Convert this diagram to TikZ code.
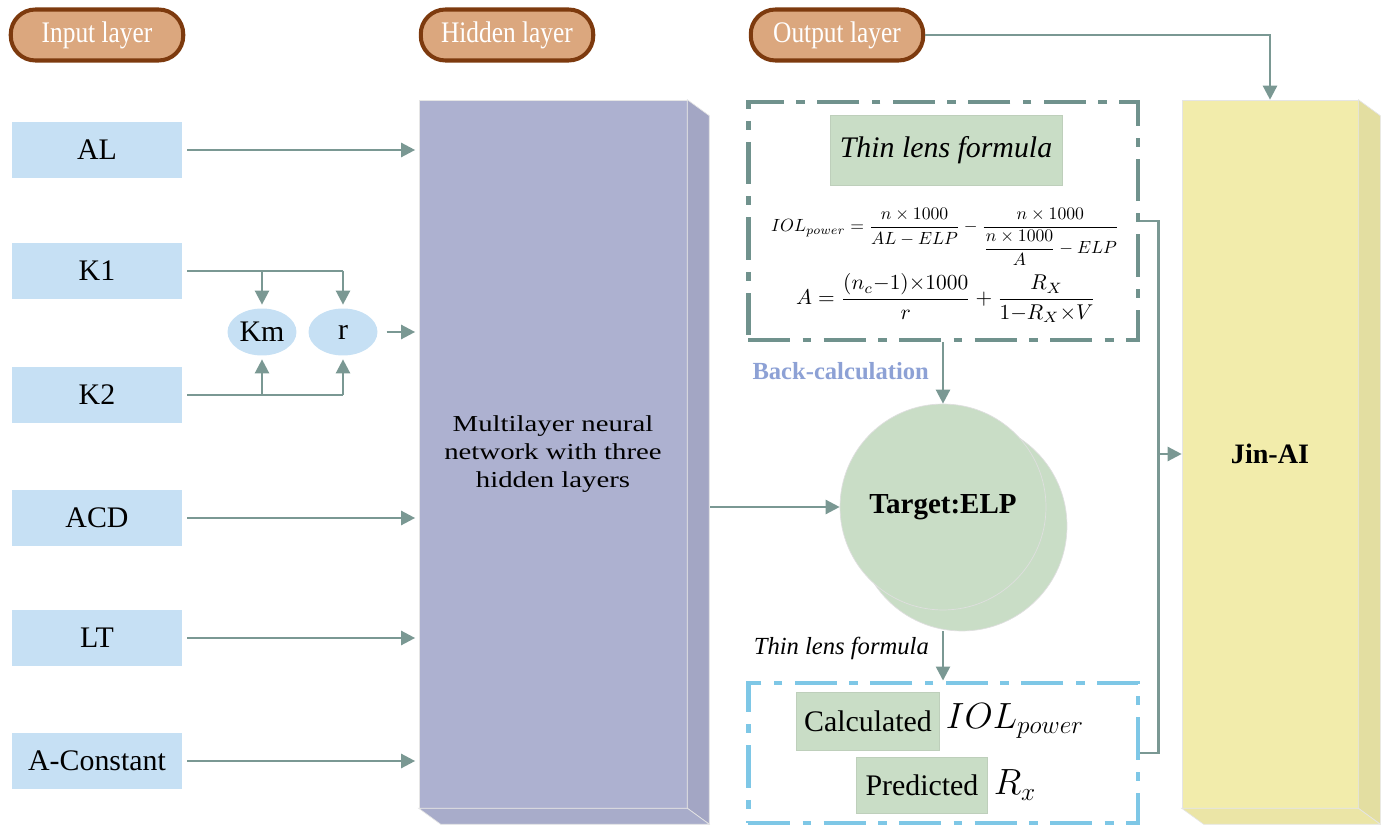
\documentclass[tikz,border=0pt]{standalone}
\usepackage{amsmath}
\usepackage{graphicx}
\usepackage{fontspec}
\setmainfont{Liberation Serif}
\newfontfamily\SerifFont{Liberation Serif}
\newfontfamily\WideFont[FakeStretch=1.26]{Liberation Serif}
\newfontfamily\NarrowFont[FakeStretch=0.85]{Liberation Serif}
\usepackage{tikz}
\usetikzlibrary{arrows.meta,calc,positioning,shapes.geometric}
\definecolor{ArrowGray}{RGB}{122,152,147}
\definecolor{InputBlue}{RGB}{198,224,244}
\definecolor{HiddenPurple}{RGB}{173,177,208}
\definecolor{JinYellow}{RGB}{242,236,171}
\definecolor{LensGreen}{RGB}{201,221,198}
\definecolor{PillFill}{RGB}{219,167,126}
\definecolor{PillEdge}{RGB}{125,58,14}
\definecolor{BoxTeal}{RGB}{112,146,141}
\definecolor{BoxBlue}{RGB}{126,199,230}
\definecolor{BackBlue}{RGB}{141,161,213}
\newcommand{\FontAt}[2]{\fontsize{#1pt}{#2pt}\selectfont}
\tikzset{%
  PillStyle/.style={draw=PillEdge,line width=2.3pt,fill=PillFill,rounded corners=14pt,
    minimum width=3.45cm,minimum height=1.02cm,text=white,font=\NarrowFont\FontAt{17}{20}},
  InputStyle/.style={fill=InputBlue,minimum width=3.4cm,minimum height=1.12cm,font=\SerifFont\FontAt{17}{20}},
  DerivedStyle/.style={ellipse,fill=InputBlue,minimum width=1.38cm,minimum height=0.94cm,
    inner sep=0pt,font=\SerifFont\FontAt{17}{20}},
  ArrowStyle/.style={draw=ArrowGray,line width=1.4pt,-{Triangle[length=8pt,width=8pt]}},
  LineStyle/.style={draw=ArrowGray,line width=1.4pt},
  GreenStyle/.style={fill=LensGreen,draw=LensGreen!85!gray,line width=0.3pt,font=\SerifFont\FontAt{17}{20}},
  DashStyle/.style={line width=2.8pt,dash pattern=on 24pt off 7pt on 5pt off 7pt},
  BlockStyle/.style={draw=white!80!gray,line width=0.4pt,minimum height=14.16cm}
}

\begin{document}
\SerifFont
\begin{tikzpicture}[x=0.02cm,y=-0.02cm]
  \useasboundingbox (0,0) rectangle (1381,830);
  \node[PillStyle] (pin) at (97,35) {Input layer};
  \node[PillStyle] (phid) at (507,35) {Hidden layer};
  \node[PillStyle] (pout) at (837,35) {Output layer};

  \foreach \name/\y [count=\xi] in {AL/150,K1/271,K2/395,ACD/518,LT/638,A-Constant/761}
  { \node[InputStyle] (in\xi) at (97,\y) {\name};}
  \node[DerivedStyle] (km) at (262,332) {Km};
  \node[DerivedStyle] (r) at (343,332) {r};

  \node[BlockStyle,fill=HiddenPurple,minimum width=5.36cm,align=center,
    font=\WideFont\FontAt{13}{16}] (hidden) at (553,454)
    {Multilayer neural\\network with three\\hidden layers};
  \node[BlockStyle,fill=JinYellow,minimum width=3.52cm,font=\SerifFont\bfseries\FontAt{16}{19}]
    (jin) at (1270,454) {Jin-AI};
  \foreach \blk/\col in {hidden/HiddenPurple,jin/JinYellow}{
    \filldraw[fill=\col!94!black,draw=white!80!gray,line width=0.4pt]
      (\blk.north east) -- ++(22,16) -- ($(\blk.south east)+(22,16)$) -- (\blk.south east) -- cycle;
    \filldraw[fill=\col!97!black,draw=white!80!gray,line width=0.4pt]
      (\blk.south west) -- ++(22,16) -- ($(\blk.south east)+(22,16)$) -- (\blk.south east) -- cycle;
  }

  \foreach \xi in {1,4,5,6}
  { \draw[ArrowStyle,shorten <=0.1cm,shorten >=2pt] (in\xi.east) -- (in\xi -| hidden.west);}
  \draw[LineStyle,shorten <=0.1cm] (in2.east) -- (in2 -| r);
  \draw[LineStyle,shorten <=0.1cm] (in3.east) -- (in3 -| r);
  \foreach \nd in {km,r}{
    \draw[ArrowStyle,shorten >=2pt] (in2 -| \nd) -- (\nd.north);
    \draw[ArrowStyle,shorten >=2pt] (in3 -| \nd) -- (\nd.south);
  }
  \draw[ArrowStyle,shorten <=5pt,shorten >=2pt] (r.east) -- (r -| hidden.west);

  \node[draw=BoxTeal,DashStyle,minimum width=7.8cm,minimum height=4.76cm] (lensbox) at (943,221) {};
  \node[GreenStyle,minimum width=4.64cm,minimum height=1.4cm,font=\SerifFont\itshape\FontAt{17}{20}]
    (lenstitle) at (946,150) {Thin lens formula};
  \node (formula1) at (945,237) {\resizebox{6.96cm}{!}{$IOL_{power}=\dfrac{n\times 1000}{AL-ELP}
    -\dfrac{n\times 1000}{\dfrac{n\times 1000}{A}-ELP}$}};
  \node (formula2) at (946,298) {\resizebox{6.0cm}{!}{$A=\dfrac{(n_c{-}1){\times}1000}{r}
    +\dfrac{R_X}{1{-}R_X{\times}V}$}};

  \node[circle,fill=LensGreen,draw=gray!25,minimum size=4.2cm] (back) at (962,526) {};
  \node[circle,fill=LensGreen,draw=gray!25,minimum size=4.12cm,font=\SerifFont\bfseries\FontAt{16.5}{19}]
    (target) at (943,507) {Target:ELP};
  \draw[ArrowStyle,shorten <=0.46cm] (hidden.east |- target) -- (target.west);
  \draw[ArrowStyle] (lensbox.south) -- (target.north);
  \node[anchor=east,text=BackBlue,font=\SerifFont\bfseries\FontAt{14}{16}] (backcalc) at (935,371) {Back-calculation};

  \node[draw=BoxBlue,DashStyle,minimum width=7.8cm,minimum height=2.8cm] (resbox) at (943,753) {};
  \draw[ArrowStyle] (back.south -| target) -- (resbox.north -| target);
  \node[anchor=east,font=\SerifFont\itshape\FontAt{14}{16}] (thinlabel) at (935,648) {Thin lens formula};
  \node[GreenStyle,minimum width=2.86cm,minimum height=1.16cm] (calc) at (868,721) {Calculated};
  \node[right=0pt of calc,font=\FontAt{20}{24}] (iol) {$IOL_{power}$};
  \node[GreenStyle,minimum width=2.62cm,minimum height=1.12cm] (pred) at (922,785) {Predicted};
  \node[right=0pt of pred,font=\FontAt{20}{24}] (rx) {$R_x$};

  \coordinate (join) at ($(lensbox.east)+(18,0)$);
  \draw[LineStyle] (lensbox.east) -- (join) |- (resbox.east);
  \draw[ArrowStyle] (join |- jin.west) -- (jin.west);
  \draw[ArrowStyle] (pout.east) -| (jin.north);
\end{tikzpicture}
\end{document}
